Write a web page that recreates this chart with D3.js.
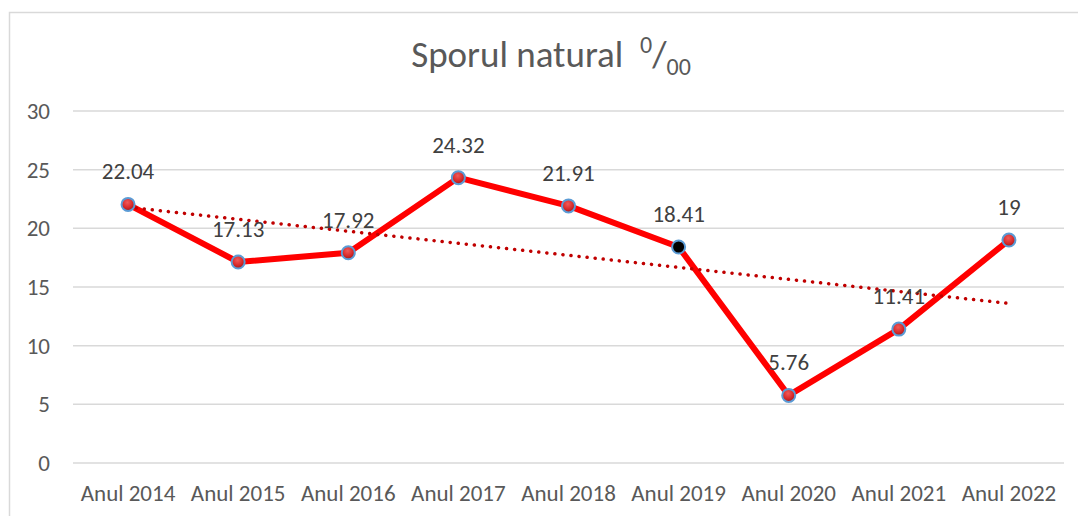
<!DOCTYPE html>
<html>
<head>
<meta charset="utf-8">
<script src="https://cdn.jsdelivr.net/npm/d3@7"></script>
<style>
  body { margin: 0; background: #fff; }
  text { font-family: Carlito, Calibri, "Open Sans", sans-serif; }
</style>
</head>
<body>
<script>
var years = ["Anul 2014", "Anul 2015", "Anul 2016", "Anul 2017", "Anul 2018",
  "Anul 2019", "Anul 2020", "Anul 2021", "Anul 2022"];
var values = [22.04, 17.13, 17.92, 24.32, 21.91, 18.41, 5.76, 11.41, 19];
var valueLabels = ["22.04", "17.13", "17.92", "24.32", "21.91", "18.41", "5.76", "11.41", "19"];
// trend line as drawn in the picture (first and last category)
var trendEnds = [21.8, 13.6];
var yTicks = [0, 5, 10, 15, 20, 25, 30];

var W = 1078, H = 516;
var plot = { left: 73, right: 1064, top: 111, bottom: 463 };

var svg = d3.select("body").append("svg")
  .attr("width", W).attr("height", H);

var defs = svg.append("defs");
var grad = defs.append("radialGradient").attr("id", "dotRed")
  .attr("cx", "45%").attr("cy", "35%").attr("r", "65%");
grad.append("stop").attr("offset", "0%").attr("stop-color", "#f05a5a");
grad.append("stop").attr("offset", "60%").attr("stop-color", "#d92b2b");
grad.append("stop").attr("offset", "100%").attr("stop-color", "#9e1a1a");

// chart frame
svg.append("path")
  .attr("d", "M9.5," + (H + 2) + "V12.5H" + (W + 2))
  .attr("fill", "none").attr("stroke", "#d9d9d9").attr("stroke-width", 1.5);

var x = d3.scaleBand().domain(years).range([plot.left, plot.right]);
var y = d3.scaleLinear().domain([0, 30]).range([plot.bottom, plot.top]);
var cx = function (d) { return x(d) + x.bandwidth() / 2; };

// gridlines
svg.append("g").selectAll("line").data(yTicks).enter().append("line")
  .attr("x1", plot.left).attr("x2", plot.right)
  .attr("y1", function (d) { return y(d); }).attr("y2", function (d) { return y(d); })
  .attr("stroke", "#d9d9d9").attr("stroke-width", 1.5);

// y tick labels
svg.append("g").selectAll("text").data(yTicks).enter().append("text")
  .attr("x", 50).attr("y", function (d) { return y(d); })
  .attr("dy", "0.35em").attr("text-anchor", "end")
  .attr("font-size", 23).attr("fill", "#595959")
  .text(function (d) { return d; });

// x category labels
var xAxis = d3.axisBottom(x).tickSize(0).tickPadding(22);
var gx = svg.append("g").attr("transform", "translate(0," + plot.bottom + ")").call(xAxis);
gx.select(".domain").remove();
gx.selectAll("text").attr("font-size", 23).attr("fill", "#595959")
  .style("font-family", "Carlito, Calibri, 'Open Sans', sans-serif");

// title
var title = svg.append("text").attr("x", 551).attr("y", 67)
  .attr("text-anchor", "middle").attr("font-size", 37).attr("fill", "#595959");
title.append("tspan").text("Sporul natural\u00a0\u00a0");
title.append("tspan").attr("dy", -14).attr("font-size", 24).text("0");
title.append("tspan").attr("dy", 14).text("/");
title.append("tspan").attr("dy", 8).attr("font-size", 24).text("00");

// main line
var line = d3.line()
  .x(function (d, i) { return cx(years[i]); })
  .y(function (d) { return y(d); });
svg.append("path").datum(values)
  .attr("d", line).attr("fill", "none")
  .attr("stroke", "#ff0000").attr("stroke-width", 6)
  .attr("stroke-linejoin", "round");

// trend line
svg.append("line")
  .attr("x1", cx(years[0])).attr("y1", y(trendEnds[0]))
  .attr("x2", cx(years[years.length - 1])).attr("y2", y(trendEnds[1]))
  .attr("stroke", "#c00000").attr("stroke-width", 3.5)
  .attr("stroke-dasharray", "0.1 8").attr("stroke-linecap", "round");

// markers
svg.append("g").selectAll("circle").data(values).enter().append("circle")
  .attr("cx", function (d, i) { return cx(years[i]); })
  .attr("cy", function (d) { return y(d); })
  .attr("r", 6.5)
  .attr("fill", function (d, i) { return years[i] === "Anul 2019" ? "#000" : "url(#dotRed)"; })
  .attr("stroke", "#5b9bd5").attr("stroke-width", 2);

// data labels
svg.append("g").selectAll("text").data(values).enter().append("text")
  .attr("x", function (d, i) { return cx(years[i]); })
  .attr("y", function (d) { return y(d) - 25; })
  .attr("text-anchor", "middle").attr("font-size", 23).attr("fill", "#404040")
  .text(function (d, i) { return valueLabels[i]; });
</script>
</body>
</html>
